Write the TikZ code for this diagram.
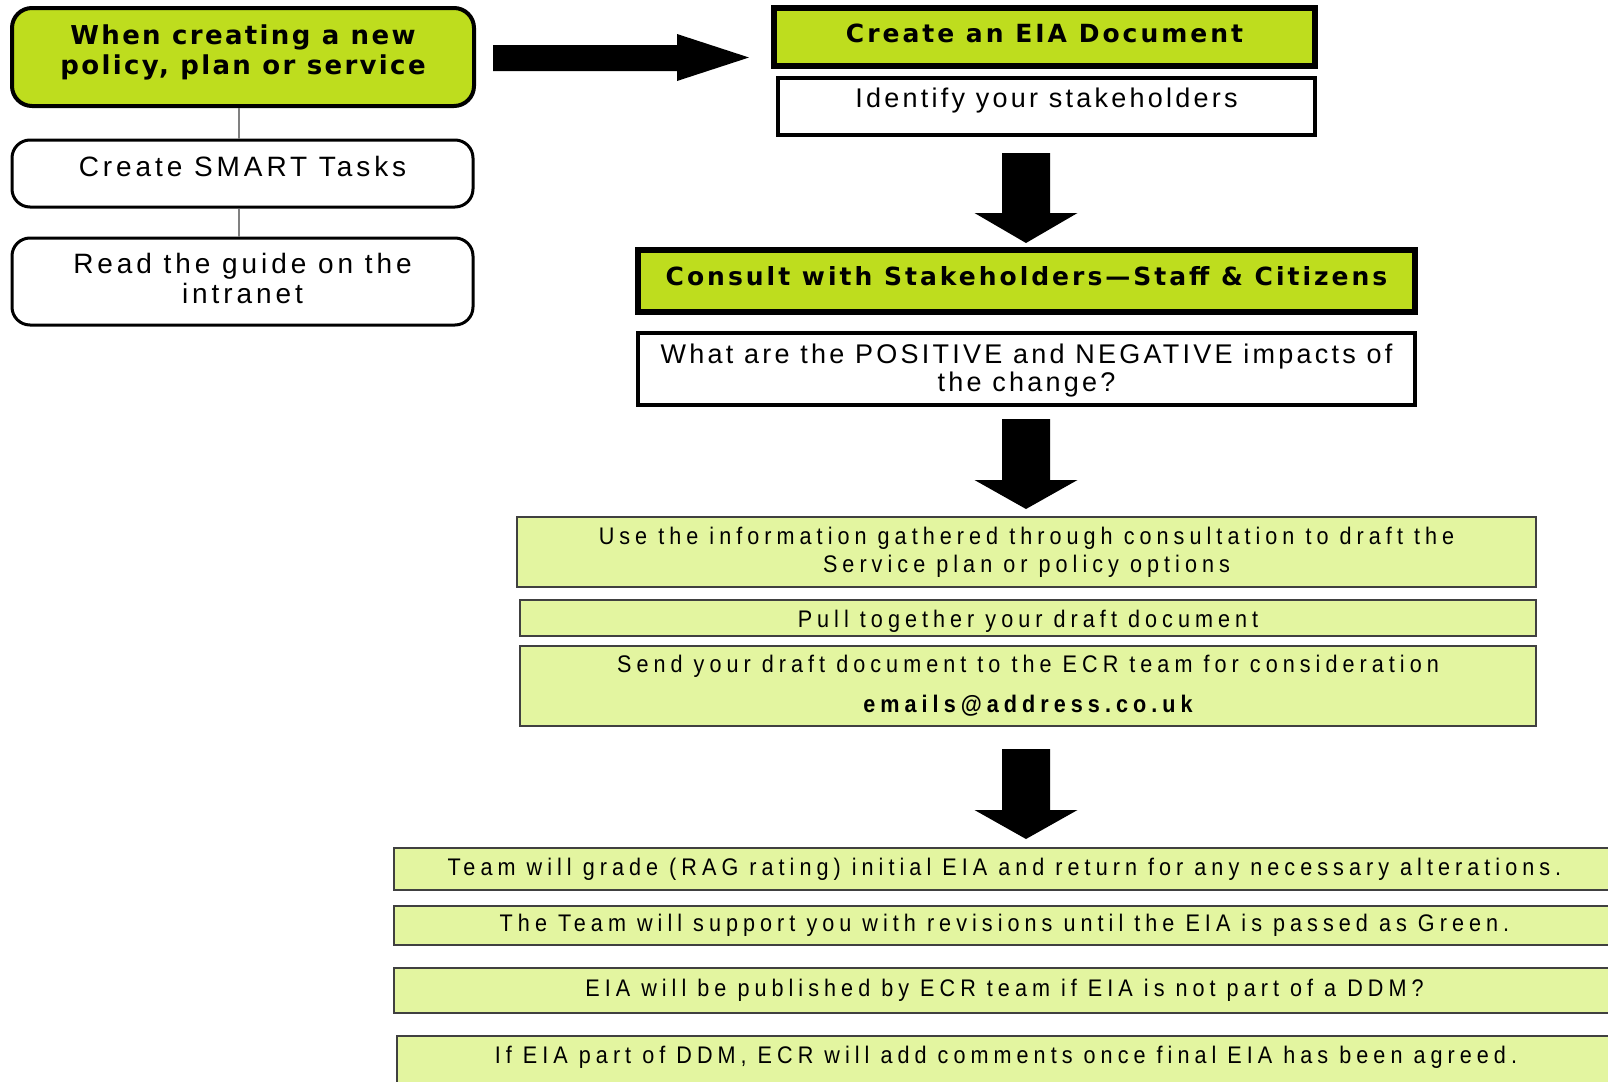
\documentclass[tikz,border=0pt]{standalone}
\usepackage{fontspec}
\setmainfont{Liberation Sans}
\newfontfamily\hfont[LetterSpace=9]{DejaVu Sans}
\newfontfamily\hfontb[LetterSpace=12]{DejaVu Sans}
\newfontfamily\bfont[LetterSpace=12]{Liberation Sans}
\newfontfamily\bfontl[LetterSpace=14]{Liberation Sans}
\newfontfamily\lfont[LetterSpace=21,FakeStretch=0.9]{Liberation Sans}
\definecolor{eiagreen}{RGB}{190,221,30}
\definecolor{eialight}{RGB}{227,245,160}
\definecolor{eiagray}{RGB}{128,128,128}
\tikzset{
  headround/.style={rectangle, rounded corners=10pt, draw=black, line width=2pt, fill=eiagreen, inner sep=0pt},
  headroundtext/.style={align=center, inner sep=0pt, font={\hfont\bfseries\fontsize{13}{15}\selectfont}},
  plainround/.style={rectangle, rounded corners=9pt, draw=black, line width=1.5pt, fill=white, inner sep=0pt},
  plaintext/.style={align=center, inner sep=0pt, font={\bfontl\fontsize{14}{15}\selectfont}},
  headbox/.style={rectangle, draw=black, line width=3pt, fill=eiagreen, inner sep=0pt},
  headtext/.style={align=center, inner sep=0pt, font={\hfontb\bfseries\fontsize{12.5}{14}\selectfont}},
  plainbox/.style={rectangle, draw=black, line width=2pt, fill=white, inner sep=0pt},
  boxtext/.style={align=center, inner sep=0pt, font={\bfont\fontsize{13.5}{14}\selectfont}},
  lightbox/.style={rectangle, draw=black!75, line width=0.75pt, fill=eialight, align=center, inner sep=0pt,
     font={\lfont\fontsize{12}{14}\selectfont}},
  lighttext/.style={align=center, inner sep=0pt, font={\lfont\fontsize{12}{14}\selectfont}},
  linkline/.style={draw=eiagray, line width=1pt},
  blockarrow/.style={fill=black}
}
\newcommand\eiaDown[4]{% centre x, top, head start, tip
  \fill[blockarrow] (#1-24,#2) -- (#1+24,#2) -- (#1+24,#3) -- (#1+51.5,#3) -- (#1,#4) -- (#1-51.5,#3) -- (#1-24,#3) -- cycle;}
\begin{document}
\begin{tikzpicture}[x=0.5pt,y=-0.5pt]
\useasboundingbox (0,0) rectangle (1608,1082);
\clip (0,0) rectangle (1608,1082);
\fill[white] (0,0) rectangle (1608,1082);

% left column
\node[headround, minimum width=231pt, minimum height=49pt] (start) at (243,57) {};
\node[headroundtext] (starttext) at (243,52) {When creating a new\\policy, plan or service};
\node[plainround, minimum width=230.5pt, minimum height=33.5pt] (smart) at (242.5,173.5) {};
\node[plaintext] (smarttext) at (242.5,166) {Create SMART Tasks};
\node[plainround, minimum width=230.5pt, minimum height=43.5pt] (guide) at (242.5,281.5) {};
\node[plaintext] (guidetext) at (242.5,278.5) {Read the guide on the\\intranet};
\draw[linkline] (start.south -| 239,0) -- (smart.north -| 239,0);
\draw[linkline] (smart.south -| 239,0) -- (guide.north -| 239,0);

% right arrow
\fill[blockarrow] (493,45) -- (677,45) -- (677,34) -- (749,57.5) -- (677,81) -- (677,71) -- (493,71) -- cycle;

% top right
\node[headbox, minimum width=270.5pt, minimum height=29pt] (eia) at (1044.5,37) {};
\node[headtext] (eiatext) at (1044.5,33) {Create an EIA Document};
\node[plainbox, minimum width=268.5pt, minimum height=28.5pt] (ident) at (1046.5,106.5) {};
\node[boxtext] (identtext) at (1046.5,100.5) {Identify your stakeholders};

\eiaDown{1026}{153}{213}{243}

\node[headbox, minimum width=388.5pt, minimum height=31pt] (consult) at (1026.5,281) {};
\node[headtext] (consulttext) at (1026.5,276) {Consult with Stakeholders—Staff \& Citizens};
\node[plainbox, minimum width=388.5pt, minimum height=36pt] (impacts) at (1026.5,369) {};
\node[boxtext] (impactstext) at (1026.5,371)
  {What are the POSITIVE and NEGATIVE impacts of\\the change?};

\eiaDown{1026}{419}{480}{509}

\node[lightbox, minimum width=509.5pt, minimum height=35pt] (info) at (1026.5,552)
  {Use the information gathered through consultation to draft the\\Service plan or policy options};
\node[lightbox, minimum width=508pt, minimum height=18pt] (pull) at (1028,618) {};
\node[lighttext] (pulltext) at (1028,621) {Pull together your draft document};
\node[lightbox, minimum width=508pt, minimum height=40pt] (send) at (1028,686)
  {Send your draft document to the ECR team for consideration\\[6pt]{\bfseries emails@address.co.uk}};

\eiaDown{1026}{749}{810}{839}

\node[lightbox, minimum width=610.5pt, minimum height=21pt] (grade) at (1004.5,869)
  {Team will grade (RAG rating) initial EIA and return for any necessary alterations.};
\node[lightbox, minimum width=610.5pt, minimum height=19.5pt] (support) at (1004.5,925.5)
  {The Team will support you with revisions until the EIA is passed as Green.};
\node[lightbox, minimum width=610.5pt, minimum height=22.5pt] (publish) at (1004.5,990.5)
  {EIA will be published by ECR team if EIA is not part of a DDM?};
\node[lightbox, minimum width=609pt, minimum height=27pt] (ddm) at (1006,1063) {};
\node[lighttext] (ddmtext) at (1006,1057)
  {If EIA part of DDM, ECR will add comments once final EIA has been agreed.};
\end{tikzpicture}
\end{document}
